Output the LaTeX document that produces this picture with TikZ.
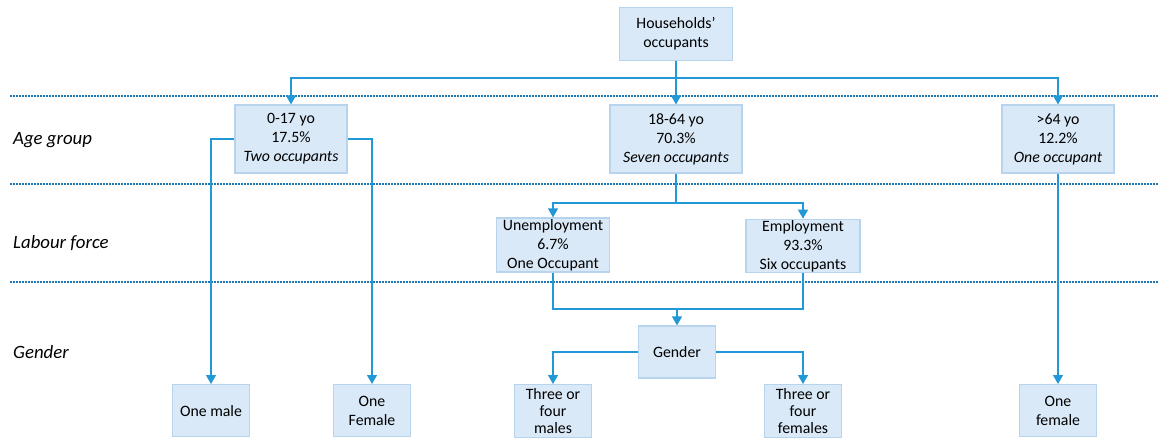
\documentclass[tikz,border=0pt]{standalone}
\usepackage{fontspec}
\setmainfont{Carlito}
\usetikzlibrary{positioning}
\usetikzlibrary{arrows.meta}

\definecolor{linkblue}{RGB}{34,152,214}
\definecolor{boxfill}{RGB}{218,233,247}
\definecolor{boxedge}{RGB}{184,212,237}
\definecolor{sepblue}{RGB}{30,118,180}

\begin{document}
\begin{tikzpicture}[x=1pt,y=-1pt,
  box/.style={draw=boxedge, fill=boxfill, line width=1.2pt, align=center, inner xsep=2pt, inner ysep=1pt, font=\fontsize{15.8}{19}\selectfont},
  tight/.style={inner ysep=0pt, font=\fontsize{15.8}{17.3}\selectfont},
  link/.style={draw=linkblue, line width=1.3pt},
  arr/.style={link, -{Triangle[width=10pt,length=9pt]}},
  sep/.style={draw=sepblue, dash pattern=on 1.6pt off 1.4pt, line width=1.1pt},
  level/.style={anchor=west, font=\fontsize{18.8}{22}\selectfont\itshape}]

 \useasboundingbox (0,0) rectangle (1159,437);

 % dotted separators between the levels
 \foreach \y in {96,184,282} {
   \draw[sep] (10,\y) -- (1159,\y);
 }

 \node[level, inner xsep=0pt] (lage) at (13,140) {Age group};
 \node[level, inner xsep=0pt] (llab) at (13,243) {Labour force};
 \node[level, inner xsep=0pt] (lgen) at (13,352) {Gender};

 % boxes
 \node[box, minimum width=113pt, minimum height=53pt] (occ) at (676,34) {Households’\\occupants};

 \node[box, minimum width=112pt, minimum height=68pt] (young) at (291,139) {0-17 yo\\17.5\%\\\textit{Two occupants}};
 \node[box, minimum width=132pt, minimum height=68pt] (adult) at (676,139) {18-64 yo\\70.3\%\\\textit{Seven occupants}};
 \node[box, minimum width=112pt, minimum height=68pt] (old) at (1058,139) {>64 yo\\12.2\%\\\textit{One occupant}};

 \node[box, minimum width=113pt, minimum height=54pt] (unemp) at (553,245) {Unemployment\\6.7\%\\One Occupant};
 \node[box, minimum width=114pt, minimum height=52pt] (emp) at (803,246) {Employment\\93.3\%\\Six occupants};

 \node[box, minimum width=77pt, minimum height=52pt] (gen) at (677,352) {Gender};

 \node[box, minimum width=77pt, minimum height=52pt, anchor=north] (male1) at (211,384) {One male};
 \node[box, minimum width=77pt, minimum height=52pt, anchor=north] (fem1) at (372,384) {One\\Female};
 \node[box, tight, minimum width=77pt, minimum height=53pt, anchor=north] (males) at (553,384) {Three or\\four\\males};
 \node[box, tight, minimum width=77pt, minimum height=53pt, anchor=north] (females) at (803,384) {Three or\\four\\females};
 \node[box, minimum width=77pt, minimum height=52pt, anchor=north] (fem3) at (1058,384) {One\\female};

 % connectors
 \coordinate (hub) at (676,78);
 \draw[arr] (occ.south) -- (adult.north);
 \draw[arr] (hub) -| (young.north);
 \draw[arr] (hub) -| (old.north);

 \draw[arr] (young.west) -| (male1.north);
 \draw[arr] (young.east) -| (fem1.north);
 \draw[arr] (old.south) -- (fem3.north);

 \coordinate (lab) at (676,203);
 \draw[link] (adult.south) -- (lab);
 \draw[arr] (lab) -| (unemp.north);
 \draw[arr] (lab) -| (emp.north);

 \coordinate (merge) at (677,309);
 \draw[link] (unemp.south) |- (merge) -| (emp.south);
 \draw[arr] (merge) -- (gen.north);

 \draw[arr] (gen.west) -| (males.north);
 \draw[arr] (gen.east) -| (females.north);
\end{tikzpicture}
\end{document}
